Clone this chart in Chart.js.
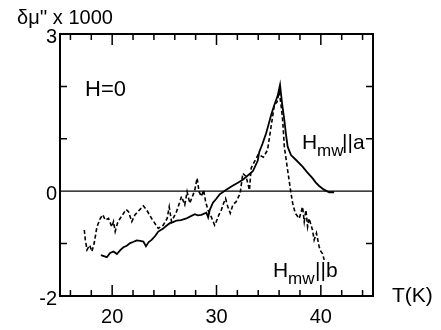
<!DOCTYPE html>
<html><head><meta charset="utf-8">
<script src="https://cdn.jsdelivr.net/npm/chart.js@4"></script>
<style>html,body{margin:0;padding:0;background:#fff}#c{display:block}</style>
</head><body>
<canvas id="c" width="441" height="330"></canvas>
<script>
// H_mw || a (solid)
const tempA = [18.92,19.2,19.49,19.8,20.13,20.45,20.8,21.08,21.4,21.72,22.0,22.35,22.7,22.99,23.24,23.5,23.78,24.1,24.42,24.89,25.2,25.53,25.85,26.17,26.6,27.12,27.5,27.92,28.2,28.55,29.03,29.2,29.35,29.66,30.0,30.3,30.6,30.94,31.5,32.05,32.52,33.0,33.48,33.95,34.1,34.4,34.75,35.0,35.23,35.5,35.86,36.09,36.3,36.5,36.65,36.82,37.14,37.6,38.25,38.7,39.2,39.5,39.84,40.3,40.8,41.27];
const muA   = [-1.22,-1.24,-1.26,-1.18,-1.15,-1.20,-1.12,-1.07,-1.04,-0.99,-0.97,-0.94,-0.95,-0.96,-1.05,-0.97,-0.93,-0.86,-0.77,-0.71,-0.66,-0.61,-0.59,-0.56,-0.55,-0.52,-0.48,-0.44,-0.46,-0.45,-0.41,-0.50,-0.36,-0.22,-0.14,-0.06,-0.02,0.03,0.10,0.16,0.22,0.30,0.38,0.58,0.75,0.90,1.10,1.28,1.45,1.62,1.82,2.03,1.65,1.36,1.10,0.85,0.69,0.60,0.47,0.36,0.25,0.17,0.10,0.03,-0.02,-0.02];
// H_mw || b (dashed)
const tempB = [17.33,17.43,17.59,17.84,18.06,18.28,18.54,18.86,19.11,19.33,19.65,19.97,20.13,20.29,20.51,20.76,21.34,21.56,21.88,22.19,22.99,23.31,23.78,24.42,24.89,25.27,25.47,25.69,26.17,26.49,26.65,26.96,27.18,27.44,27.75,27.92,28.14,28.33,28.55,28.77,28.96,29.18,29.50,29.82,29.98,30.23,30.46,30.68,30.87,31.09,31.32,31.57,31.89,32.27,32.52,32.84,33.16,33.32,33.6,34.0,34.5,34.9,35.23,35.55,35.8,36.02,36.2,36.34,36.5,36.82,37.14,37.3,37.55,37.93,38.25,38.41,38.57,38.73,38.88,39.2,39.36,39.58,39.84,40.0,40.16,40.32];
const muB   = [-0.74,-0.93,-1.12,-1.03,-1.15,-0.99,-0.68,-0.52,-0.45,-0.55,-0.52,-0.68,-0.58,-0.77,-0.61,-0.52,-0.35,-0.39,-0.58,-0.45,-0.28,-0.36,-0.52,-0.71,-0.65,-0.52,-0.30,-0.58,-0.39,-0.20,-0.10,-0.26,-0.01,-0.23,-0.07,0.02,0.25,-0.01,-0.10,0.02,-0.20,-0.36,-0.49,-0.65,-0.58,-0.45,-0.36,-0.23,-0.14,-0.30,-0.42,-0.26,-0.20,-0.04,0.34,0.28,0.02,0.44,0.55,0.70,0.65,0.79,1.23,1.65,1.70,1.90,1.62,1.36,0.85,0.40,-0.04,-0.23,-0.42,-0.52,-0.30,-0.58,-0.36,-0.68,-0.52,-0.74,-0.93,-0.80,-1.06,-1.15,-1.19,-1.31];
const xTickLabels = [20, 30, 40];
const xMinorTicks = [16,18,22,24,26,28,32,34,36,38,42,44];
const yTickLabels = [3, 0, -2];
const yMinorTicks = [-1, 1, 2];
const xRange = [15, 45];
const yRange = [-2, 3];

const FONT = '"Liberation Sans", Arial, Helvetica, sans-serif';
const pts = (xs, ys) => xs.map((x, i) => ({x, y: ys[i]}));

const decor = {
  id: 'decor',
  afterDraw(chart) {
    const {ctx, chartArea: a, scales: {x, y}} = chart;
    ctx.save();
    ctx.strokeStyle = '#000';
    ctx.fillStyle = '#000';
    ctx.lineWidth = 2;
    ctx.strokeRect(a.left, a.top, a.right - a.left, a.bottom - a.top);
    ctx.lineWidth = 1.5;
    ctx.beginPath();
    xTickLabels.forEach(v => { const p = x.getPixelForValue(v);
      ctx.moveTo(p, a.bottom); ctx.lineTo(p, a.bottom - 11);
      ctx.moveTo(p, a.top); ctx.lineTo(p, a.top + 11); });
    xMinorTicks.forEach(v => { const p = x.getPixelForValue(v);
      ctx.moveTo(p, a.bottom); ctx.lineTo(p, a.bottom - 6);
      ctx.moveTo(p, a.top); ctx.lineTo(p, a.top + 6); });
    yMinorTicks.forEach(v => { const p = y.getPixelForValue(v);
      ctx.moveTo(a.left, p); ctx.lineTo(a.left + 7, p);
      ctx.moveTo(a.right, p); ctx.lineTo(a.right - 7, p); });
    ctx.stroke();
    ctx.font = '20px ' + FONT;
    ctx.textBaseline = 'alphabetic';
    ctx.textAlign = 'right';
    yTickLabels.forEach(v => ctx.fillText(String(v), a.left - 3, y.getPixelForValue(v) + 9));
    ctx.textAlign = 'center';
    xTickLabels.forEach(v => ctx.fillText(String(v), x.getPixelForValue(v), a.bottom + 27));
    ctx.textAlign = 'left';
    ctx.fillText('\u03b4\u03bc\'\' x 1000', 17, 24);
    ctx.font = '21px ' + FONT;
    ctx.fillText('T(K)', 392, 302);
    ctx.font = '22px ' + FONT;
    ctx.fillText('H=0', 85, 96);
    // H_mw||a
    ctx.font = '21px ' + FONT;
    ctx.fillText('H', 302, 149);
    ctx.font = '17px ' + FONT;
    ctx.fillText('mw', 317, 156);
    ctx.font = '21px ' + FONT;
    ctx.fillText('||a', 342, 149);
    // H_mw||b
    ctx.fillText('H', 273, 277);
    ctx.font = '17px ' + FONT;
    ctx.fillText('mw', 288, 284);
    ctx.font = '21px ' + FONT;
    ctx.fillText('||b', 315, 277);
    ctx.restore();
  }
};

new Chart(document.getElementById('c'), {
  type: 'scatter',
  data: { datasets: [
    { data: pts(xRange, [0, 0]), showLine: true, borderColor: '#000', borderWidth: 1.3, pointRadius: 0 },
    { data: pts(tempA, muA), showLine: true, borderColor: '#000', borderWidth: 1.8, pointRadius: 0, tension: 0 },
    { data: pts(tempB, muB), showLine: true, borderColor: '#000', borderWidth: 1.6, borderDash: [4, 2.5], pointRadius: 0, tension: 0 }
  ]},
  options: {
    responsive: false, animation: false,
    layout: { padding: { left: 60, right: 68, top: 34, bottom: 34 } },
    plugins: { legend: { display: false }, tooltip: { enabled: false } },
    scales: {
      x: { type: 'linear', min: xRange[0], max: xRange[1], display: false },
      y: { type: 'linear', min: yRange[0], max: yRange[1], display: false }
    }
  },
  plugins: [decor]
});
</script>
</body></html>
